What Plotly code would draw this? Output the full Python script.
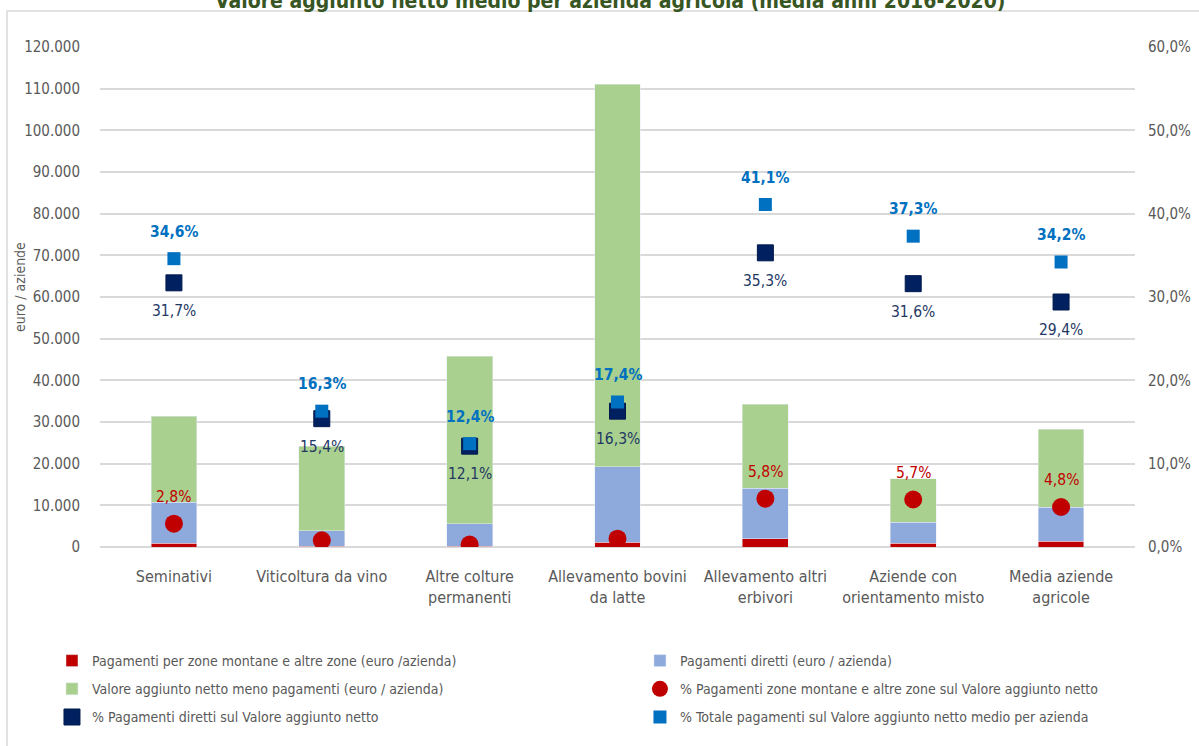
import plotly.graph_objects as go

categories = [
    "Seminativi",
    "Viticoltura da vino",
    "Altre colture<br>permanenti",
    "Allevamento bovini<br>da latte",
    "Allevamento altri<br>erbivori",
    "Aziende con<br>orientamento misto",
    "Media aziende<br>agricole",
]

# euro / azienda
pag_montane = [900, 200, 140, 1100, 2000, 930, 1360]
pag_diretti = [9800, 3650, 5400, 18150, 12050, 5050, 8150]
van_meno_pag = [20700, 20350, 40260, 91850, 20250, 10420, 18790]

# percentuali sul valore aggiunto netto
pct_montane = [2.8, 0.8, 0.3, 1.0, 5.8, 5.7, 4.8]
pct_diretti = [31.7, 15.4, 12.1, 16.3, 35.3, 31.6, 29.4]
pct_totale = [34.6, 16.3, 12.4, 17.4, 41.1, 37.3, 34.2]
show_montane_label = [True, False, False, False, True, True, True]

FONT = "Liberation Sans Narrow, Arial Narrow, DejaVu Sans Condensed, Liberation Sans, Arial, sans-serif"
GREY = "#595959"


def it_pct(v):
    return f"{v:.1f}".replace(".", ",") + "%"


fig = go.Figure()
fig.add_trace(go.Bar(x=categories, y=pag_montane, name="Pagamenti per zone montane e altre zone (euro /azienda)",
                     marker_color="#C00000", width=0.31, legend="legend", legendgroup="a"))
fig.add_trace(go.Bar(x=categories, y=pag_diretti, name="Pagamenti diretti (euro / azienda)",
                     marker_color="#8EA9DB", width=0.31, legend="legend2", legendgroup="b"))
fig.add_trace(go.Bar(x=categories, y=van_meno_pag, name="Valore aggiunto netto meno pagamenti (euro / azienda)",
                     marker_color="#A9D08E", width=0.31, legend="legend", legendgroup="c"))
fig.add_trace(go.Scatter(x=categories, y=pct_montane, yaxis="y2", mode="markers",
                         name="% Pagamenti zone montane e altre zone sul Valore aggiunto netto",
                         marker=dict(color="#C00000", size=18, symbol="circle"),
                         legend="legend2", legendgroup="d"))
fig.add_trace(go.Scatter(x=categories, y=pct_diretti, yaxis="y2", mode="markers",
                         name="% Pagamenti diretti sul Valore aggiunto netto",
                         marker=dict(color="#002060", size=16, symbol="square",
                                     line=dict(color="#001a4d", width=1)),
                         legend="legend", legendgroup="e"))
fig.add_trace(go.Scatter(x=categories, y=pct_totale, yaxis="y2", mode="markers",
                         name="% Totale pagamenti sul Valore aggiunto netto medio per azienda",
                         marker=dict(color="#0070C0", size=13, symbol="square"),
                         legend="legend2", legendgroup="f"))

annotations = []
for c, v, s in zip(categories, pct_montane, show_montane_label):
    if s:
        annotations.append(dict(x=c, y=v, yref="y2", text=it_pct(v), showarrow=False, yshift=27,
                                font=dict(family=FONT, size=15.5, color="#C00000")))
for c, v in zip(categories, pct_diretti):
    annotations.append(dict(x=c, y=v, yref="y2", text=it_pct(v), showarrow=False, yshift=-28,
                            font=dict(family=FONT, size=15.5, color="#1F3864")))
for c, v in zip(categories, pct_totale):
    annotations.append(dict(x=c, y=v, yref="y2", text="<b>" + it_pct(v) + "</b>", showarrow=False, yshift=27,
                            font=dict(family=FONT, size=15.5, color="#0070C0")))

annotations.append(dict(x=(20 - 100) / 1035, y=0.52, xref="paper", yref="paper", text="euro / aziende",
                        textangle=-90, showarrow=False, xanchor="center", yanchor="middle",
                        font=dict(family=FONT, size=14, color=GREY)))
annotations.append(dict(x=0.493, y=1.092, xref="paper", yref="paper",
                        text="<b>Valore aggiunto netto medio per azienda agricola (media anni 2016-2020)</b>",
                        showarrow=False, xanchor="center", yanchor="middle",
                        font=dict(family=FONT, size=21, color="#375623")))

legend_common = dict(orientation="v", yanchor="top", y=-0.196, xanchor="left", itemwidth=30,
                     tracegroupgap=7, bgcolor="rgba(0,0,0,0)",
                     font=dict(family=FONT, size=14, color=GREY))

fig.update_layout(
    width=1199, height=746,
    margin=dict(l=100, r=64, t=47, b=199, autoexpand=False),
    barmode="stack",
    separators=",.",
    paper_bgcolor="white", plot_bgcolor="white",
    font=dict(family=FONT, size=15, color=GREY),
    xaxis=dict(tickfont=dict(size=16, color=GREY), showgrid=False, showline=False, ticks="",
               ticklabelstandoff=18),
    yaxis=dict(range=[0, 120000], dtick=10000, tickformat=",d", showgrid=True, gridcolor="#D9D9D9",
               gridwidth=1.5, zeroline=True, zerolinecolor="#D9D9D9", zerolinewidth=1.5,
               tickfont=dict(size=15, color=GREY), ticks="", ticklabelstandoff=19),
    yaxis2=dict(range=[0, 60], dtick=10, tickformat=".1f", ticksuffix="%", overlaying="y", side="right",
                showgrid=False, zeroline=False, tickfont=dict(size=15, color=GREY), ticks="",
                ticklabelstandoff=12),
    showlegend=True,
    legend=dict(x=-0.0464, **legend_common),
    legend2=dict(x=0.5217, **legend_common),
    annotations=annotations,
    shapes=[dict(type="rect", xref="paper", yref="paper", x0=(7 - 100) / 1035, x1=1.2,
                 y0=-0.6, y1=(547 - 11) / 500, line=dict(color="#D9D9D9", width=1.5),
                 fillcolor="rgba(0,0,0,0)", layer="below")],
)

# the page body has a default 8px margin; drop it so the figure sits at the window origin
fig.write_html("out.html", config={"displayModeBar": False},
               post_script="document.body.style.margin='0';")
